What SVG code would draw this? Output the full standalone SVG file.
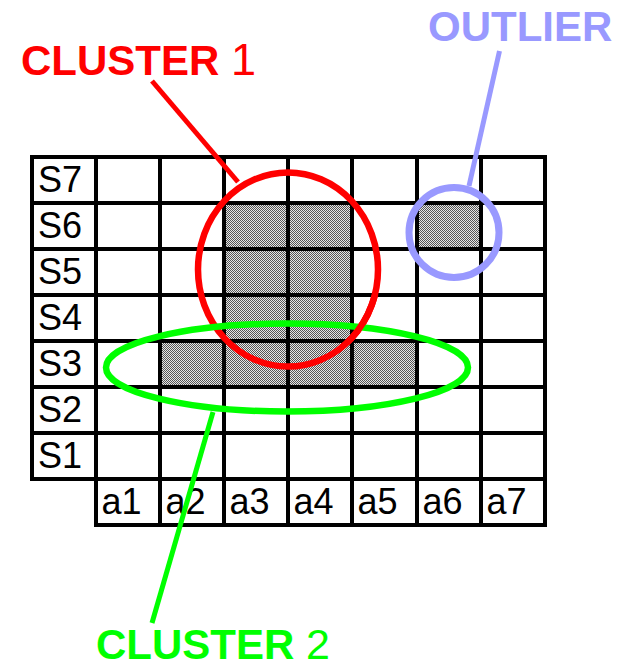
<svg xmlns="http://www.w3.org/2000/svg" width="627" height="668" viewBox="0 0 627 668">
<defs>
<pattern id="dots" width="2" height="2" patternUnits="userSpaceOnUse">
<rect width="2" height="2" fill="#e6e6e6"/>
<rect width="1" height="1" fill="#555"/>
<rect x="1" y="1" width="1" height="1" fill="#555"/>
</pattern>
<clipPath id="rightx"><rect x="330" y="295" width="70" height="50"/></clipPath>
</defs>
<style>
.lbl{font-family:"Liberation Sans",Arial,sans-serif;font-size:36px;fill:#000}
.grid{stroke:#000;stroke-width:4;fill:none;stroke-linecap:square}
.title{font-family:"Liberation Sans",Arial,sans-serif;font-weight:bold;font-size:42px}
.num{font-weight:normal;font-size:45px}
</style>
<rect width="627" height="668" fill="#fff"/>
<g id="grid">
<rect x="224" y="203" width="128" height="138" fill="url(#dots)"/>
<rect x="160" y="341" width="257" height="46" fill="url(#dots)"/>
<rect x="417" y="203" width="64" height="46" fill="url(#dots)"/>
<path class="grid" d="M32 157H545M32 203H545M32 249H545M32 295H545M32 341H545M32 387H545M32 433H545M32 479H545M96 525H545M32 157V479M96 157V525M160 157V525M224 157V525M288 157V525M352 157V525M417 157V525M481 157V525M545 157V525"/>
<text class="lbl" x="38" y="191.5">S7</text>
<text class="lbl" x="38" y="237.5">S6</text>
<text class="lbl" x="38" y="283.5">S5</text>
<text class="lbl" x="38" y="329.5">S4</text>
<text class="lbl" x="38" y="375.5">S3</text>
<text class="lbl" x="38" y="421.5">S2</text>
<text class="lbl" x="38" y="467.5">S1</text>
<text class="lbl" x="101.5" y="513.5">a1</text>
<text class="lbl" x="165.5" y="513.5">a2</text>
<text class="lbl" x="229.5" y="513.5">a3</text>
<text class="lbl" x="293.5" y="513.5">a4</text>
<text class="lbl" x="357.5" y="513.5">a5</text>
<text class="lbl" x="422.5" y="513.5">a6</text>
<text class="lbl" x="486.5" y="513.5">a7</text>
</g>
<g id="cluster1">
<ellipse cx="288" cy="269.5" rx="90" ry="97" fill="none" stroke="#ff0000" stroke-width="6.5"/>
<text class="title" x="21" y="75" fill="#ff0000">CLUSTER <tspan class="num">1</tspan></text>
</g>
<g id="cluster2">
<ellipse cx="287" cy="367.5" rx="181" ry="44" fill="none" stroke="#00ff00" stroke-width="6.5"/>
<text class="title" x="96" y="659" fill="#00ff00">CLUSTER <tspan class="num" style="font-size:43px">2</tspan></text>
</g>
<g id="cluster1-over">
<ellipse cx="288" cy="269.5" rx="90" ry="97" fill="none" stroke="#ff0000" stroke-width="6.5" clip-path="url(#rightx)"/>
</g>
<g id="outlier">
<circle cx="454" cy="232.5" r="45" fill="none" stroke="#9999ff" stroke-width="7"/>
<text class="title" x="428" y="41" fill="#9999ff">OUTLIER</text>
</g>
<g id="connectors" stroke-width="5" fill="none">
<line x1="152" y1="81" x2="238" y2="182" stroke="#ff0000"/>
<line x1="499.5" y1="51" x2="469" y2="186" stroke="#9999ff"/>
<line x1="213" y1="412" x2="152" y2="623" stroke="#00ff00"/>
</g>
</svg>
